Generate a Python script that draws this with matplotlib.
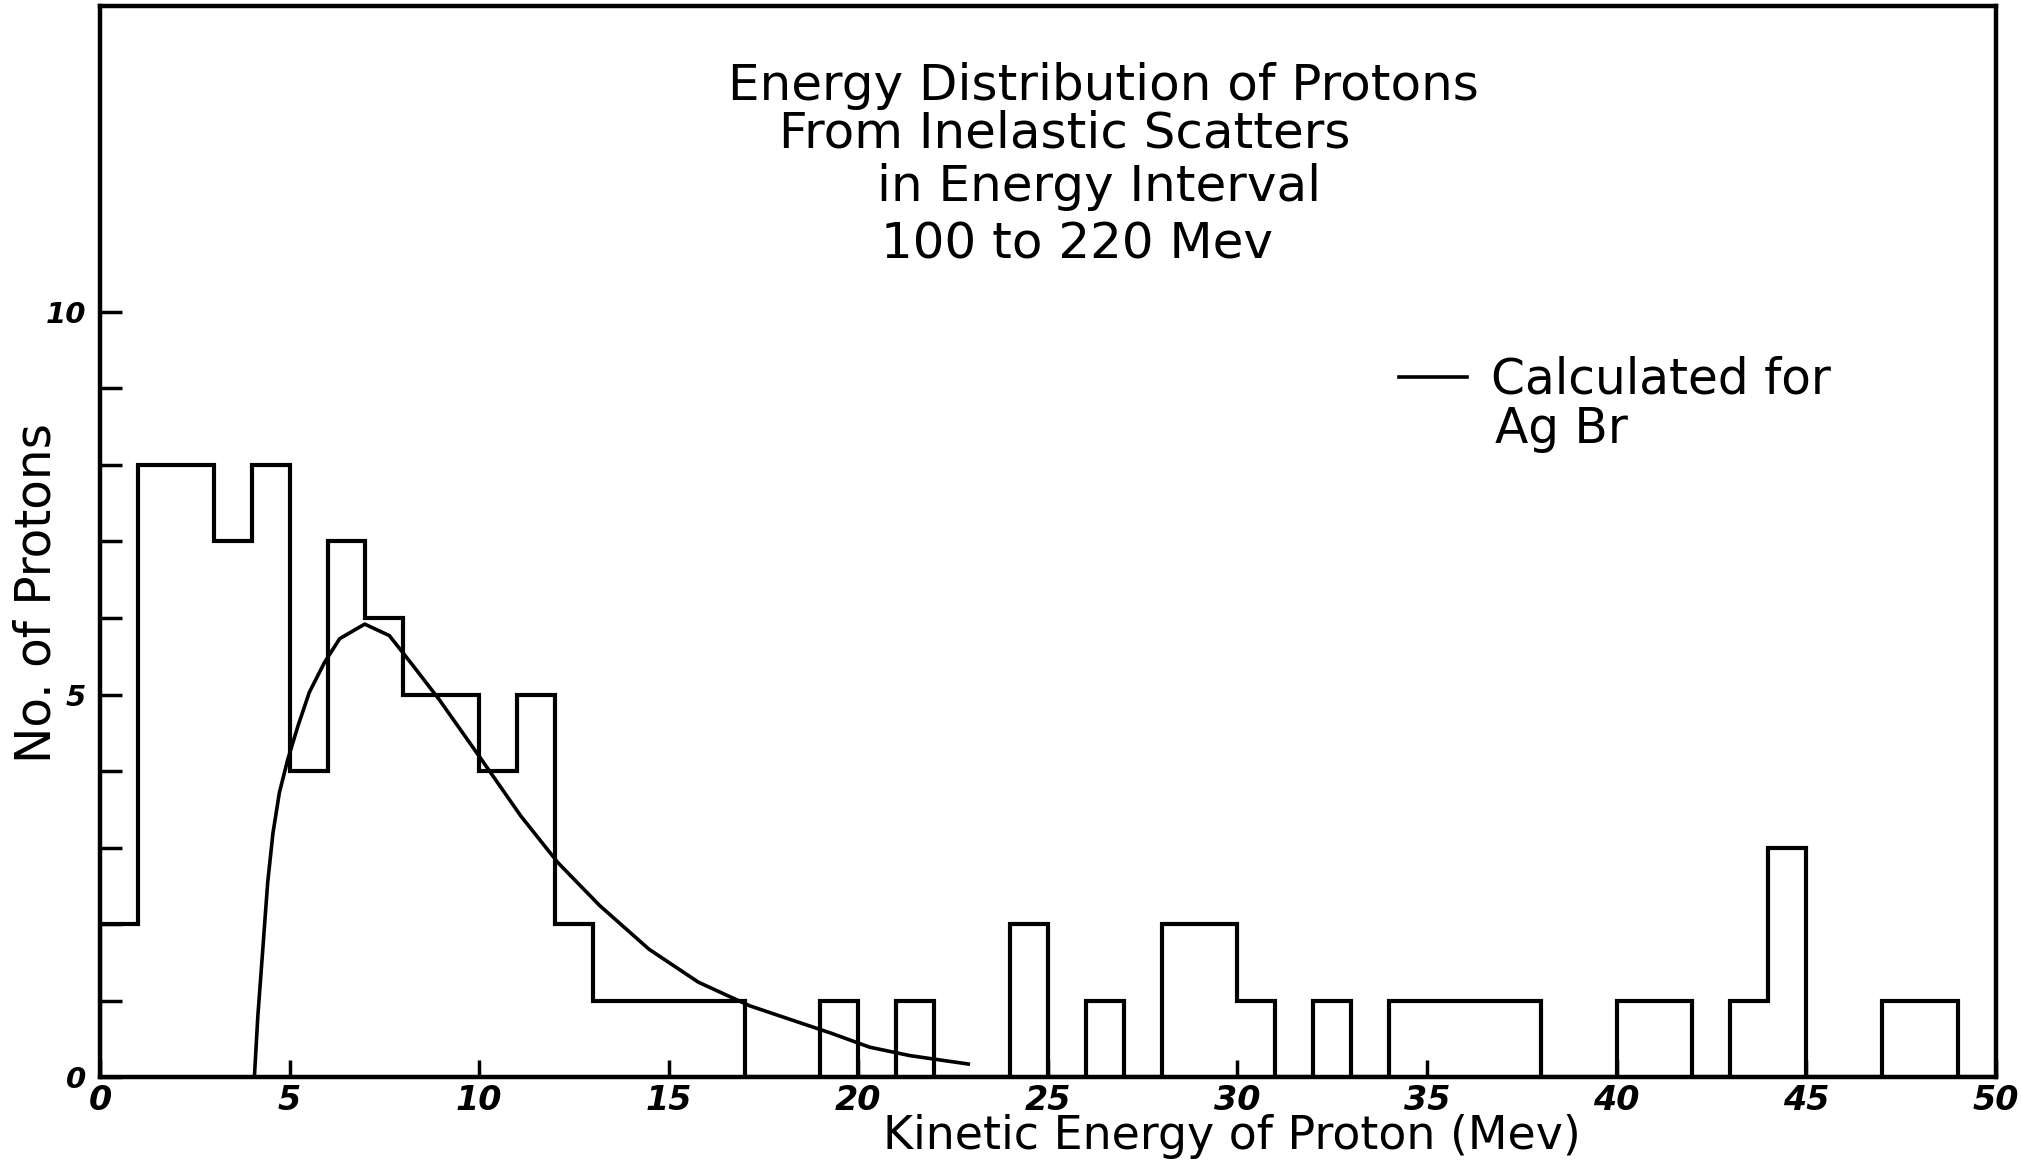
### Energy distribution of protons from inelastic scatters (histogram + calculated curve) ###
import numpy as np
import matplotlib.pyplot as plt

# histogram: counts in 1 Mev bins from 0 to 50
bin_edges = list(range(0, 51))
counts = [2, 8, 8, 7, 8, 4, 7, 6, 5, 5,
          4, 5, 2, 1, 1, 1, 1, 0, 0, 1,
          0, 1, 0, 0, 2, 0, 1, 0, 2, 2,
          1, 0, 1, 0, 1, 1, 1, 1, 0, 0,
          1, 1, 0, 1, 3, 0, 0, 1, 1, 0]

# calculated curve for AgBr
calc_energy = [4.07, 4.16, 4.29, 4.42, 4.56, 4.73, 4.95, 5.22, 5.52, 5.92, 6.32,
               6.98, 7.63, 8.25, 8.95, 10.06, 11.1, 12.08, 13.18, 14.48, 15.78,
               17.14, 19.3, 20.3, 21.36, 22.9]
calc_counts = [0.0, 0.79, 1.66, 2.54, 3.19, 3.72, 4.15, 4.59, 5.03, 5.42, 5.73,
               5.92, 5.77, 5.38, 4.93, 4.15, 3.41, 2.8, 2.24, 1.67, 1.24,
               0.93, 0.57, 0.39, 0.28, 0.17]

x_ticklabels = [0, 5, 10, 15, 20, 25, 30, 35, 40, 45, 50]
y_ticklabels = [0, 5, 10]

fig = plt.figure(figsize=(20.22, 11.66), dpi=100)
ax = fig.add_axes([0.0495, 0.0763, 0.9375, 0.9186])

ax.stairs(counts, bin_edges, color='black', linewidth=3, baseline=0)
curve, = ax.plot(calc_energy, calc_counts, color='black', linewidth=2.6)

ax.set_xlim(0, 50)
ax.set_ylim(0, 14)
for s in ax.spines.values():
    s.set_linewidth(3.2)

ax.set_xticks(x_ticklabels)
ax.set_xticklabels([str(v) for v in x_ticklabels], fontsize=24,
                   fontstyle='italic', fontweight='bold')
ax.set_yticks(range(0, 11))
ax.set_yticklabels([str(v) if v in y_ticklabels else '' for v in range(0, 11)],
                   fontsize=21, fontstyle='italic', fontweight='bold')
ax.tick_params(axis='y', direction='in', length=16, width=2.5, pad=10)
ax.tick_params(axis='x', direction='in', length=12, width=2.5, pad=5)

# title lines
title_lines = ["Energy Distribution of Protons", "From Inelastic Scatters",
               "in Energy Interval", "100 to 220 Mev"]
title_x = [0.331, 0.358, 0.410, 0.412]
title_y = [0.925, 0.881, 0.831, 0.777]
for t, tx, ty in zip(title_lines, title_x, title_y):
    ax.text(tx, ty, t, transform=ax.transAxes, fontsize=36, ha='left', va='center')

# legend
ax.legend(handles=[curve], labels=["Calculated for"], loc='center left',
          bbox_to_anchor=(0.662, 0.651), frameon=False, fontsize=35,
          handlelength=1.4, handletextpad=0.5)
ax.text(0.736, 0.605, "Ag Br", transform=ax.transAxes, fontsize=35, ha='left', va='center')

fig.text(0.018, 0.491, "No. of Protons", rotation=90, fontsize=35,
         ha='center', va='center')
fig.text(0.609, 0.025, "Kinetic Energy of Proton (Mev)", fontsize=33, ha='center', va='center')

fig.savefig('out.png', dpi=100)
